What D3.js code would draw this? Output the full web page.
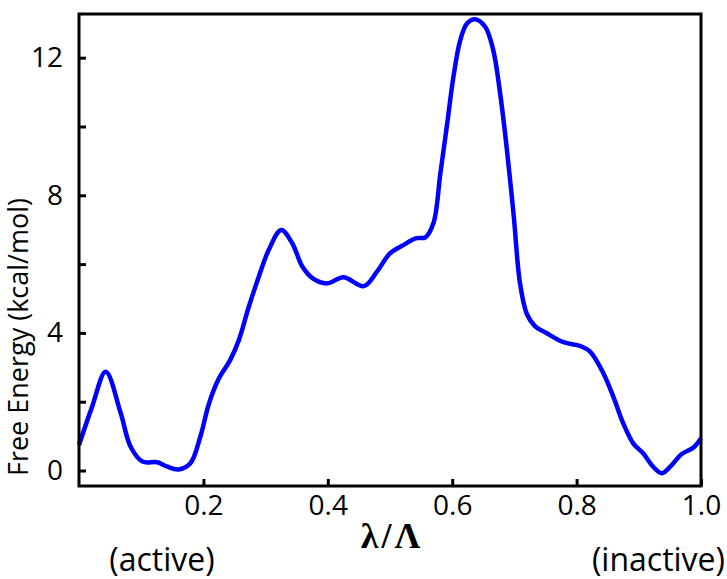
<!DOCTYPE html>
<html lang="en-US">
  <head>
    <meta charset="utf-8">
    <title>Free energy profile</title>
    <style>
      body { margin: 0; background: white; }
      .tick text { font-family: "Open Sans", sans-serif; font-size: 28px; fill: black; }
      .lbl { font-family: "Open Sans", sans-serif; font-size: 27px; fill: black; }
      .end { font-family: "Open Sans", sans-serif; font-size: 32px; fill: black; }
    </style>
  </head>
  <body>
  <script src="https://d3js.org/d3.v7.min.js"></script>
  <div id="my_dataviz"></div>
  <script>
    // reaction coordinate lambda/Lambda and free energy (kcal/mol)
    var lambda = [0, 0.021, 0.043, 0.067, 0.083, 0.102, 0.126, 0.142, 0.160, 0.179,
                  0.195, 0.209, 0.225, 0.243, 0.257, 0.273, 0.289, 0.305, 0.325, 0.343,
                  0.359, 0.377, 0.399, 0.425, 0.458, 0.479, 0.500, 0.522, 0.541, 0.557,
                  0.570, 0.581, 0.592, 0.602, 0.613, 0.624, 0.637, 0.653, 0.666, 0.677,
                  0.688, 0.699, 0.709, 0.720, 0.733, 0.752, 0.779, 0.806, 0.822, 0.843,
                  0.859, 0.875, 0.891, 0.907, 0.923, 0.937, 0.953, 0.969, 0.988, 1.0]
    var energy = [0.74, 1.85, 2.87, 1.67, 0.69, 0.26, 0.24, 0.11, 0.03, 0.21,
                  0.98, 1.95, 2.68, 3.21, 3.79, 4.76, 5.63, 6.41, 6.99, 6.6,
                  5.93, 5.57, 5.44, 5.62, 5.36, 5.78, 6.31, 6.56, 6.75, 6.78,
                  7.2, 8.64, 10.09, 11.45, 12.51, 13.0, 13.12, 12.9, 12.22, 10.97,
                  9.32, 7.38, 5.44, 4.55, 4.2, 3.99, 3.73, 3.62, 3.45, 2.83,
                  2.15, 1.37, 0.79, 0.5, 0.11, -0.08, 0.16, 0.48, 0.67, 0.94]
    var xTicks = [0.2, 0.4, 0.6, 0.8, 1.0]
    var yTicks = [0, 2, 4, 6, 8, 10, 12]
    var yLabelled = [0, 4, 8, 12]

    var width = 727,
        height = 579,
        margin = {top: 14, right: 26, bottom: 93, left: 79}

    var svg = d3.select("#my_dataviz")
      .append("svg")
        .attr("width", width)
        .attr("height", height)

    var x = d3.scaleLinear()
      .domain([0, 1])
      .range([margin.left, width - margin.right])
    var y = d3.scaleLinear()
      .domain([-0.45, 13.27])
      .range([height - margin.bottom, margin.top])

    // x axis, ticks point inward
    var gx = svg.append("g")
      .attr("transform", "translate(0," + (height - margin.bottom) + ")")
      .call(d3.axisBottom(x)
        .tickValues(xTicks)
        .tickSizeInner(-7)
        .tickSizeOuter(0)
        .tickPadding(9)
        .tickFormat(d3.format(".1f")))
    gx.select(".domain").remove()
    gx.selectAll(".tick line").attr("stroke-width", 3)

    var gy = svg.append("g")
      .attr("transform", "translate(" + margin.left + ",0)")
      .call(d3.axisLeft(y)
        .tickValues(yTicks)
        .tickSizeInner(-7)
        .tickSizeOuter(0)
        .tickPadding(16)
        .tickFormat(function(d) { return yLabelled.indexOf(d) >= 0 ? d : "" }))
    gy.select(".domain").remove()
    gy.selectAll(".tick line").attr("stroke-width", 3)

    // the curve
    var line = d3.line()
      .x(function(d, i) { return x(lambda[i]) })
      .y(function(d) { return y(d) })
      .curve(d3.curveCatmullRom.alpha(0.5))

    svg.append("path")
      .datum(energy)
      .attr("d", line)
      .attr("fill", "none")
      .attr("stroke", "#0000ff")
      .attr("stroke-width", 4.5)
      .attr("stroke-linejoin", "round")

    // frame
    svg.append("rect")
      .attr("x", margin.left)
      .attr("y", margin.top)
      .attr("width", width - margin.right - margin.left)
      .attr("height", height - margin.bottom - margin.top)
      .attr("fill", "none")
      .attr("stroke", "black")
      .attr("stroke-width", 3)

    // labels
    svg.append("text")
      .attr("class", "lbl")
      .attr("transform", "translate(28,337) rotate(-90)")
      .attr("text-anchor", "middle")
      .text("Free Energy (kcal/mol)")

    svg.append("text")
      .attr("x", 392)
      .attr("y", 548)
      .attr("text-anchor", "middle")
      .style("font-family", "'Liberation Serif', serif")
      .style("font-weight", "bold")
      .style("font-size", "36px")
      .style("letter-spacing", "3px")
      .text("λ/Λ")

    svg.append("text")
      .attr("class", "end")
      .attr("x", 162)
      .attr("y", 571)
      .attr("text-anchor", "middle")
      .text("(active)")

    svg.append("text")
      .attr("class", "end")
      .attr("x", 725)
      .attr("y", 571)
      .attr("text-anchor", "end")
      .text("(inactive)")
  </script>
  </body>
</html>
